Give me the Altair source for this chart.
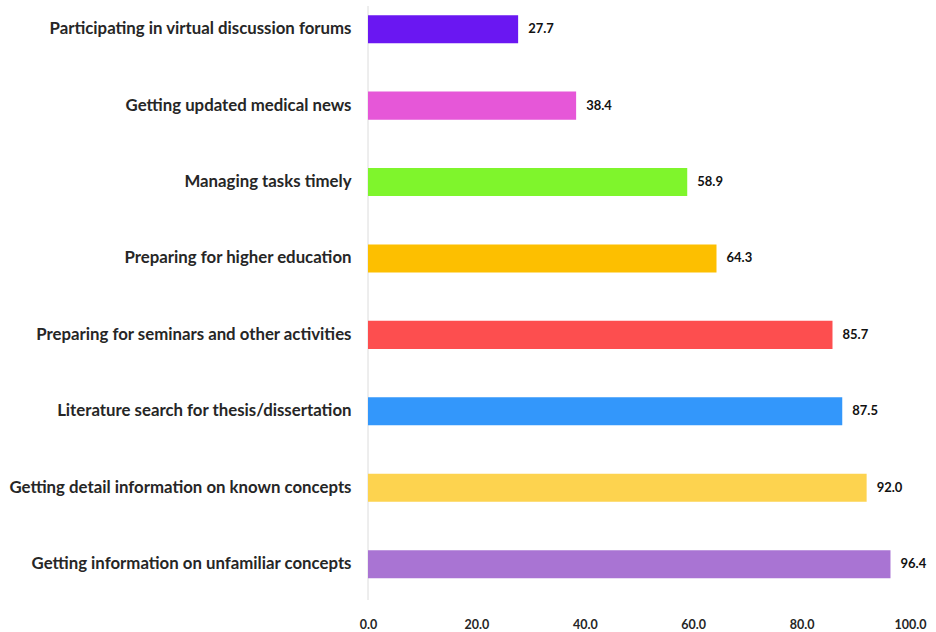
import altair as alt
import pandas as pd

categories = [
    "Participating in virtual discussion forums",
    "Getting updated medical news",
    "Managing tasks timely",
    "Preparing for higher education",
    "Preparing for seminars and other activities",
    "Literature search for thesis/dissertation",
    "Getting detail information on known concepts",
    "Getting information on unfamiliar concepts",
]
values = [27.7, 38.4, 58.9, 64.3, 85.7, 87.5, 92.0, 96.4]
colors = ["#6a17f2", "#e657d8", "#7ff52c", "#fdbf00", "#fd4e4f", "#3397fb", "#fdd34f", "#a974d3"]
x_ticks = [0, 20, 40, 60, 80, 100]

df = pd.DataFrame({"category": categories, "value": values, "color": colors})

W, H = 542, 600
FONT = "Lato"
TEXT = "#262626"

y_enc = alt.Y(
    "category:N",
    sort=categories,
    scale=alt.Scale(paddingInner=0.633, paddingOuter=0.242, align=0.41),
    axis=alt.Axis(
        title=None, domain=False, ticks=False, labelPadding=17,
        labelFont=FONT, labelFontSize=16.8, labelFontWeight="bold",
        labelColor=TEXT, labelLimit=400,
    ),
)
x_enc = alt.X(
    "value:Q",
    scale=alt.Scale(domain=[0, 100], nice=False),
    axis=alt.Axis(
        title=None, values=x_ticks, format=".1f", domain=False, ticks=False,
        grid=False, labelPadding=18, labelFont=FONT, labelFontSize=12.5,
        labelFontWeight="bold", labelColor=TEXT, labelFlush=False,
    ),
)

bars = alt.Chart(df).mark_bar().encode(
    x=x_enc, y=y_enc, color=alt.Color("color:N", scale=None)
)

labels = alt.Chart(df).mark_text(
    align="left", baseline="middle", dx=10, font=FONT, fontSize=13,
    fontWeight="bold", color="#111111",
).encode(
    x="value:Q", y=alt.Y("category:N", sort=categories), text=alt.Text("value:Q", format=".1f")
)

axis_line = alt.Chart(pd.DataFrame({"x": [0]})).mark_rule(color="#dcdcdc", strokeWidth=1).encode(
    x="x:Q", y=alt.value(6), y2=alt.value(600)
)

chart = (
    alt.layer(axis_line, bars, labels)
    .properties(
        width=W, height=H,
        autosize=alt.AutoSizeParams(type="none"),
        padding={"left": 368, "top": 0, "right": 26, "bottom": 32},
        background="white",
    )
    .configure_view(stroke=None)
)

chart.save("out.html", embed_options={"renderer": "svg", "actions": False})
